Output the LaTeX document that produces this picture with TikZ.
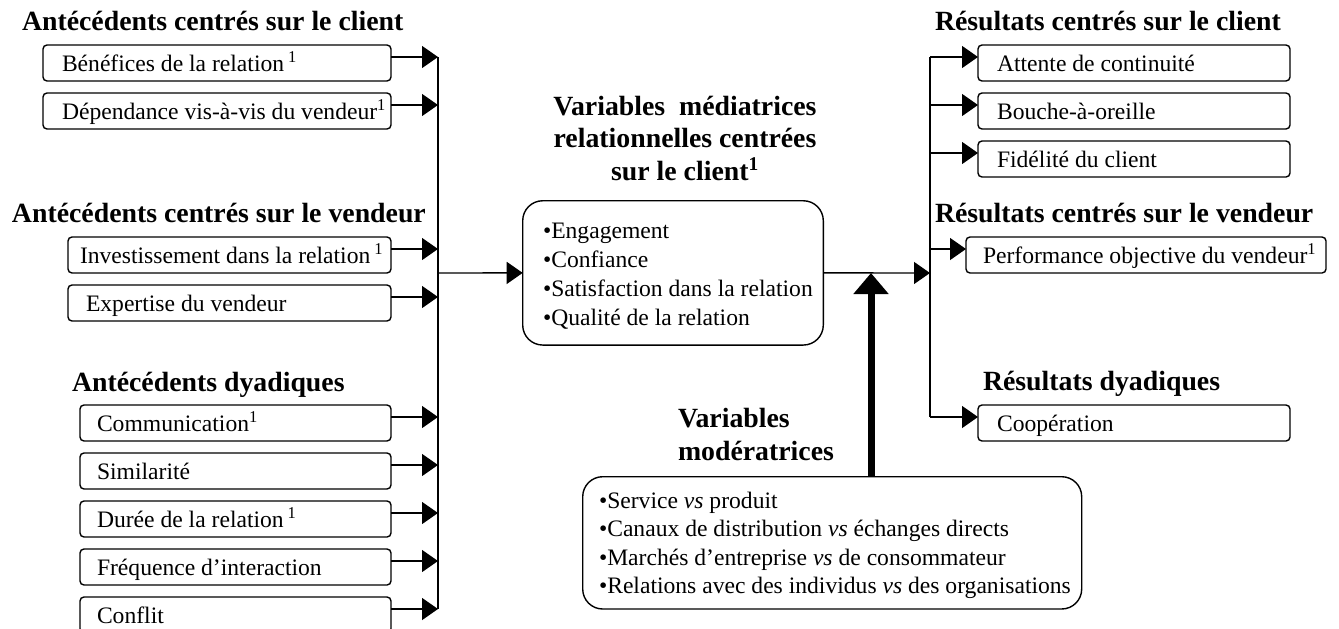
\documentclass[tikz,border=0pt]{standalone}
\usepackage{fontspec}
\setmainfont{Liberation Serif}
\usetikzlibrary{arrows.meta}
\newcommand\bxtext[3]{\makebox[#1pt][l]{\hspace*{#2pt}#3}}
\begin{document}
\begin{tikzpicture}[x=1pt,y=-1pt,
  every node/.style={inner sep=0pt, outer sep=0pt},
  ttl/.style={font=\fontsize{27.8}{33}\selectfont\bfseries, anchor=base west},
  txt/.style={font=\fontsize{23.6}{29}\selectfont},
  itembox/.style={txt, draw, line width=1.4pt, rounded corners=4pt, anchor=north west,
    minimum height=36pt, text height=19pt, text depth=2pt},
  bigbox/.style={draw, line width=1.4pt, rounded corners=20pt},
  conn/.style={line width=1.4pt},
  arr/.style={conn, -{Triangle[length=16pt,width=22pt]}},
  thickarr/.style={line width=7pt, -{Triangle[length=21pt,width=34pt]}},
]
\useasboundingbox (0,0) rectangle (1339,629);

% titles (multi-line nodes: base = baseline of last line)
\node[ttl] (t1) at (22,30) {Antécédents centrés sur le client};
\node[ttl] (t2) at (12,222) {Antécédents centrés sur le vendeur};
\node[ttl] (t3) at (72,391) {Antécédents dyadiques};
\node[ttl] (u1) at (935,30) {Résultats centrés sur le client};
\node[ttl] (u2) at (935,222) {Résultats centrés sur le vendeur};
\node[ttl] (u3) at (983,390) {Résultats dyadiques};
\node[ttl, font=\fontsize{27.8}{32.5}\selectfont\bfseries, anchor=base, align=center] (medttl) at (685,180)
  {Variables\ \ médiatrices\\relationnelles centrées\\sur le client\textsuperscript{1}};
\node[ttl, align=left] (modttl) at (678,460) {Variables\\modératrices};

% left boxes
\node[itembox] (a1) at (43,45) {\bxtext{348}{19}{Bénéfices de la relation\,\textsuperscript{1}}};
\node[itembox] (a2) at (43,93) {\bxtext{348}{19}{Dépendance vis-à-vis du vendeur\textsuperscript{1}}};
\node[itembox] (v1) at (68,237) {\bxtext{323}{12}{Investissement dans la relation\,\textsuperscript{1}}};
\node[itembox] (v2) at (68,285) {\bxtext{323}{18}{Expertise du vendeur}};
\node[itembox] (d1) at (80,405) {\bxtext{311}{17}{Communication\textsuperscript{1}}};
\node[itembox] (d2) at (80,453) {\bxtext{311}{17}{Similarité}};
\node[itembox] (d3) at (80,501) {\bxtext{311}{17}{Durée de la relation\,\textsuperscript{1}}};
\node[itembox] (d4) at (80,549) {\bxtext{311}{17}{Fréquence d’interaction}};
\node[itembox] (d5) at (80,597) {\bxtext{311}{17}{Conflit}};

% right boxes
\node[itembox] (r1) at (978,45) {\bxtext{312}{19}{Attente de continuité}};
\node[itembox] (r2) at (978,93) {\bxtext{312}{19}{Bouche-à-oreille}};
\node[itembox] (r3) at (978,141) {\bxtext{312}{19}{Fidélité du client}};
\node[itembox] (r4) at (966,237) {\bxtext{360}{17}{Performance objective du vendeur\textsuperscript{1}}};
\node[itembox] (r5) at (978,405) {\bxtext{312}{19}{Coopération}};

% center box
\node[bigbox, minimum width=300.6pt, minimum height=144.3pt] (med) at (673,272.9) {};
\node[txt, anchor=base west, align=left] (medtxt) at (543,325)
  {•Engagement\\•Confiance\\•Satisfaction dans la relation\\•Qualité de la relation};

% moderator box
\node[bigbox, minimum width=499pt, minimum height=132.3pt] (mod) at (832.2,542.85) {};
\node[txt, font=\fontsize{23.6}{28.5}\selectfont, anchor=base west, align=left] (modtxt) at (599,593.5)
  {•Service \textit{vs} produit\\
   •Canaux de distribution \textit{vs} échanges directs\\
   •Marchés d’entreprise \textit{vs} de consommateur\\
   •Relations avec des individus \textit{vs} des organisations};

% connectors
\coordinate (lb) at (438,273);
\coordinate (rb) at (930,273);
\coordinate (m) at (871,273);
\foreach \n in {a1,a2,v1,v2,d1,d2,d3,d4,d5}
  \draw[arr] ([yshift=6pt]\n.east) -- ([yshift=6pt]\n.east -| lb);
\draw[conn] ([yshift=6pt]a1.east -| lb) -- ([yshift=6pt]d5.east -| lb);
\draw[arr] (lb) -- (med.west);
\draw[arr] (med.east) -- (rb);
\foreach \n in {r1,r2,r3,r4,r5}
  \draw[arr] ([yshift=6pt]\n.west -| rb) -- ([yshift=6pt]\n.west);
\draw[conn] ([yshift=6pt]r1.west -| rb) -- ([yshift=6pt]r5.west -| rb);
\draw[thickarr] (m |- mod.north) -- (m);
\end{tikzpicture}
\end{document}
